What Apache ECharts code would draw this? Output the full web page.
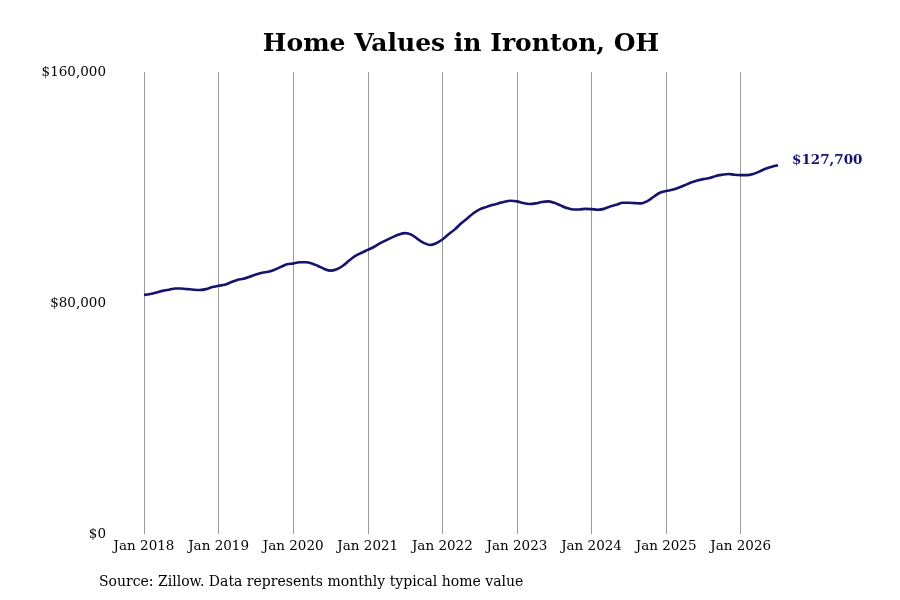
<!DOCTYPE html>
<html>
<head>
<meta charset="utf-8">
<title>Home Values in Ironton, OH</title>
<script src="https://cdn.jsdelivr.net/npm/echarts@6/dist/echarts.min.js"></script>
<style>
  html, body { margin: 0; padding: 0; background: #ffffff; }
  #chart { width: 900px; height: 600px; }
</style>
</head>
<body>
<div id="chart"></div>
<script>
// typical home value, monthly, Jan 2018 .. Jul 2026
const startYear = 2018;
const values = [
  82800, 83100, 83600, 84200, 84600, 85000, 85000, 84800, 84600, 84500, 84800, 85500,
  86000, 86300, 87200, 88000, 88400, 89100, 89900, 90500, 90800, 91500, 92500, 93400,
  93700, 94100, 94100, 93700, 92800, 91800, 91200, 91700, 92900, 94700, 96300, 97400,
  98400, 99400, 100700, 101800, 102800, 103700, 104200, 103700, 102200, 100800, 100100, 100700,
  102000, 103800, 105500, 107500, 109300, 111100, 112400, 113200, 113900, 114500, 115100, 115400,
  115200, 114600, 114300, 114500, 115000, 115200, 114700, 113800, 112900, 112400, 112400, 112600,
  112500, 112300, 112600, 113400, 114000, 114700, 114700, 114600, 114500, 115300, 116800, 118200,
  118800, 119200, 119900, 120800, 121700, 122400, 122900, 123300, 124000, 124400, 124700, 124400,
  124300, 124300, 124700, 125500, 126500, 127200, 127700
];
const monthNames = ["Jan", "Feb", "Mar", "Apr", "May", "Jun", "Jul", "Aug", "Sep", "Oct", "Nov", "Dec"];
const yTicks = [0, 80000, 160000];

const categories = values.map((v, i) => {
  return monthNames[i % 12] + " " + (startYear + Math.floor(i / 12));
});

const fmtDollar = (v) => "$" + Math.round(v).toLocaleString("en-US");

const chart = echarts.init(document.getElementById("chart"));

chart.setOption({
  backgroundColor: "#ffffff",
  animation: false,
  textStyle: { fontFamily: "DejaVu Serif" },
  graphic: [
    {
      type: "text",
      x: 461,
      y: 44,
      style: {
        text: "Home Values in Ironton, OH",
        font: "bold 25px 'DejaVu Serif'",
        fill: "#000000",
        align: "center",
        verticalAlign: "middle",
      },
    },
    {
      type: "text",
      x: 99,
      y: 582,
      style: {
        text: "Source: Zillow. Data represents monthly typical home value",
        font: "14px 'DejaVu Serif'",
        fill: "#000000",
        align: "left",
        verticalAlign: "middle",
      },
    },
  ],
  grid: {
    left: 144,
    right: 122,
    top: 72,
    bottom: 66,
    containLabel: false,
  },
  xAxis: {
    type: "category",
    data: categories,
    boundaryGap: false,
    axisLine: { show: false },
    axisTick: { show: false },
    axisLabel: {
      interval: (i) => i % 12 === 0,
      color: "#000000",
      fontSize: 13.5,
      margin: 5,
      fontFamily: "DejaVu Serif",
    },
    splitLine: {
      show: true,
      interval: (i) => i % 12 === 0,
      lineStyle: { color: "#9a9a9a", width: 1 },
    },
  },
  yAxis: {
    type: "value",
    min: yTicks[0],
    max: yTicks[yTicks.length - 1],
    interval: yTicks[1] - yTicks[0],
    axisLine: { show: false },
    axisTick: { show: false },
    splitLine: { show: false },
    axisLabel: {
      formatter: fmtDollar,
      color: "#000000",
      fontSize: 13.5,
      margin: 38,
      fontFamily: "DejaVu Serif",
    },
  },
  series: [
    {
      type: "line",
      data: values,
      smooth: 0.3,
      symbol: "none",
      lineStyle: { color: "#15136b", width: 2.6 },
      endLabel: {
        show: true,
        formatter: (p) => fmtDollar(p.value),
        color: "#15136b",
        fontWeight: "bold",
        fontSize: 13.5,
        fontFamily: "DejaVu Serif",
        distance: 14,
        offset: [0, -5],
      },
    },
  ],
});
</script>
</body>
</html>
